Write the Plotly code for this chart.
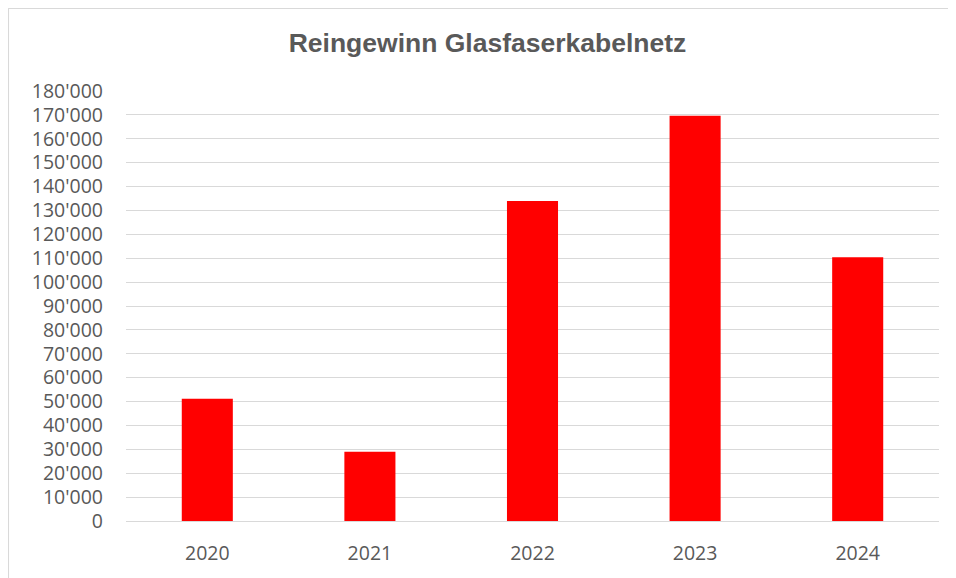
import plotly.graph_objects as go

years = ["2020", "2021", "2022", "2023", "2024"]
reingewinn = [51200, 29000, 134000, 169600, 110400]
tick_values = list(range(0, 180001, 10000))

# page has an 8px body margin, so the figure starts at (8, 8)
OFF = 8
W, H = 956 - OFF, 578 - OFF
L, R, T, B = 126 - OFF, 17, 91 - OFF, 57
pw, ph = W - L - R, H - T - B

def px_x(x):
    return (x - L) / pw

def px_y(y):
    return (H - B - y) / ph

fig = go.Figure(go.Bar(x=years, y=reingewinn, marker=dict(color="#FF0000", line=dict(width=0))))

fig.update_layout(
    width=W, height=H,
    margin=dict(l=L, r=R, t=T, b=B, autoexpand=False),
    paper_bgcolor="white", plot_bgcolor="white",
    separators=".'",
    bargap=0.686,
    showlegend=False,
    title=dict(text="<b>Reingewinn Glasfaserkabelnetz</b>",
               font=dict(family="Liberation Sans, Arial, sans-serif", size=26.5, color="#595959"),
               x=(487.5 - OFF) / W, xref="container", xanchor="center",
               y=1 - (43 - OFF) / H, yref="container", yanchor="middle"),
    font=dict(family="Open Sans, sans-serif", size=19.5, color="#595959"),
)
fig.update_yaxes(range=[0, 180000], tickvals=tick_values, tickformat=",d",
                 showgrid=True, gridcolor="#d9d9d9", gridwidth=1.3,
                 zeroline=False, showline=False, ticks="", ticklabelstandoff=22,
                 tickfont=dict(family="Open Sans, sans-serif", size=19.5, color="#595959"),
                 fixedrange=True)
fig.update_xaxes(showgrid=False, showline=True, linecolor="#d9d9d9", linewidth=1.3,
                 ticks="", ticklabelstandoff=14,
                 tickfont=dict(family="Open Sans, sans-serif", size=19.5, color="#595959"))

# outer chart border (top and left visible)
fig.add_shape(type="line", xref="paper", yref="paper",
              x0=px_x(0.3), x1=px_x(W + 5), y0=px_y(0.3), y1=px_y(0.3),
              line=dict(color="#d9d9d9", width=1.5))
fig.add_shape(type="line", xref="paper", yref="paper",
              x0=px_x(0.3), x1=px_x(0.3), y0=px_y(0.3), y1=px_y(H + 5),
              line=dict(color="#d9d9d9", width=1.5))

fig.write_html("out.html")
